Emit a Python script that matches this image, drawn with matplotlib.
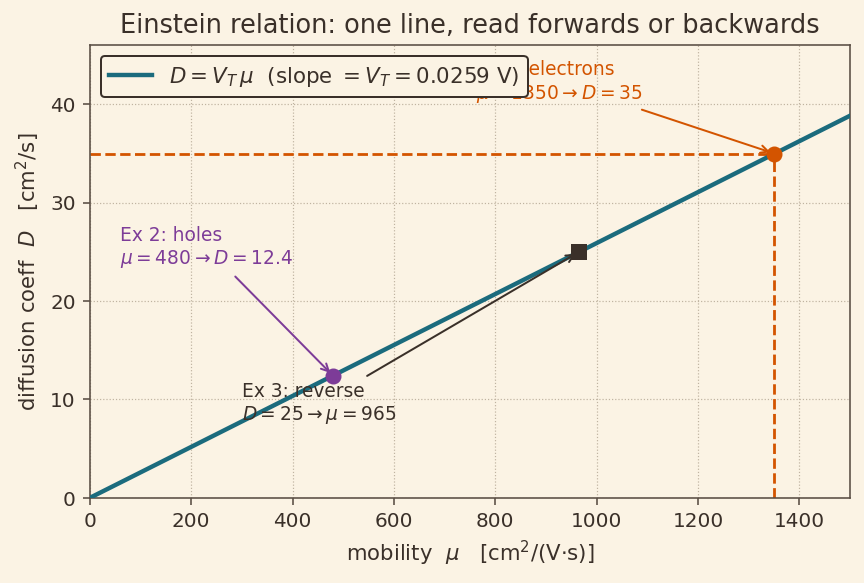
import numpy as np
import matplotlib
matplotlib.use("Agg")
import matplotlib.pyplot as plt

V_T = 0.0259
mu_line = np.array([0, 1500])
D_line = V_T * mu_line

# worked examples
mu_e, D_e = 1350, 35.0
mu_h, D_h = 480, 12.4
D_rev, mu_rev = 25, 965

bg = '#fbf3e4'
ink = '#3a3029'
teal = '#1b6b7d'
orange = '#d35400'
purple = '#7d3c98'

plt.rcParams['font.family'] = ['DejaVu Sans']
plt.rcParams['text.color'] = ink
plt.rcParams['axes.labelcolor'] = ink
plt.rcParams['xtick.color'] = ink
plt.rcParams['ytick.color'] = ink

fig = plt.figure(figsize=(6, 4.05), dpi=144, facecolor=bg)
ax = fig.add_axes([0.104, 0.146, 0.880, 0.776], facecolor=bg)

ax.plot(mu_line, D_line, color=teal, lw=2.2,
        label=r'$D = V_T\,\mu$  (slope $= V_T = 0.0259$ V)', zorder=3)

# guides for example 1
ax.plot([0, mu_e], [D_e, D_e], color=orange, ls='--', lw=1.4, zorder=2)
ax.plot([mu_e, mu_e], [0, D_e], color=orange, ls='--', lw=1.4, zorder=2)

ax.plot(mu_e, D_e, 'o', color=orange, ms=7, zorder=4)
ax.plot(mu_h, D_h, 'o', color=purple, ms=7, zorder=4)
ax.plot(mu_rev, D_rev, 's', color=ink, ms=7, zorder=4)

ax.annotate('Ex 1: electrons\n' + r'$\mu = 1350 \rightarrow D = 35$',
            xy=(mu_e, D_e), xytext=(762, 40.6), color=orange, fontsize=9.3,
            arrowprops=dict(arrowstyle='->', color=orange, lw=1.0))
ax.annotate('Ex 2: holes\n' + r'$\mu = 480 \rightarrow D = 12.4$',
            xy=(mu_h, D_h), xytext=(60, 23.8), color=purple, fontsize=9.3,
            arrowprops=dict(arrowstyle='->', color=purple, lw=1.0))
ax.annotate('Ex 3: reverse\n' + r'$D = 25 \rightarrow \mu = 965$',
            xy=(mu_rev, D_rev), xytext=(300, 7.9), color=ink, fontsize=9.3,
            arrowprops=dict(arrowstyle='->', color=ink, lw=1.0))

ax.set_xlim(0, 1500)
ax.set_ylim(0, 46)
ax.set_xticks(np.arange(0, 1501, 200))
ax.set_yticks(np.arange(0, 41, 10))
ax.tick_params(labelsize=10, color='#5a4e44')
ax.grid(True, ls=':', lw=0.6, color='#bfb3a0')
for s in ax.spines.values():
    s.set_color('#5a4e44')

ax.set_xlabel(r'mobility  $\mu$   [cm$^2$/(V$\cdot$s)]', fontsize=10.6)
ax.set_ylabel(r'diffusion coeff  $D$   [cm$^2$/s]', fontsize=10.6)
ax.set_title('Einstein relation: one line, read forwards or backwards', fontsize=12.8, color=ink)

leg = ax.legend(loc='upper left', fontsize=10.7, facecolor=bg, edgecolor=ink, framealpha=1)
leg.get_frame().set_linewidth(1.0)
leg.set_zorder(5)

fig.savefig('out.png', dpi=144, facecolor=bg)
